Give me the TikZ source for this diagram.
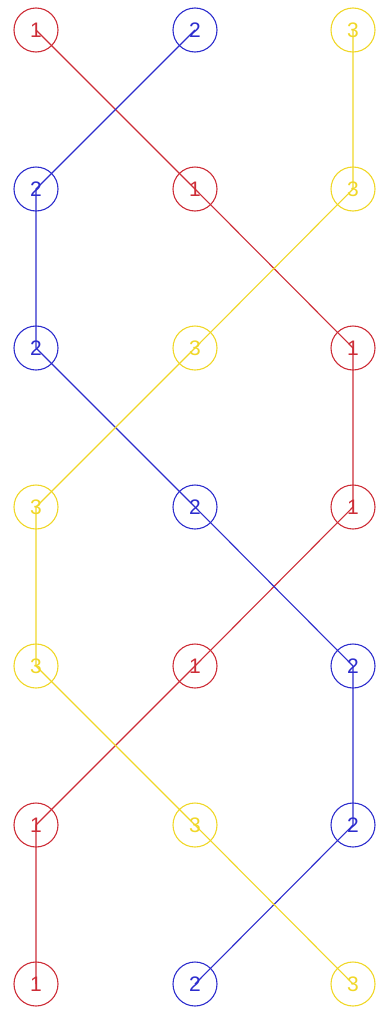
\documentclass[tikz,border=0pt]{standalone}
\usepackage{fontspec}
\setmainfont{Liberation Sans}
\definecolor{cred}{RGB}{205,45,55}
\definecolor{cblue}{RGB}{45,45,205}
\definecolor{cyel}{RGB}{240,215,40}
\begin{document}
\begin{tikzpicture}[x=1pt,y=-1pt,
  ball/.style={circle,draw,line width=1.1pt,minimum size=44pt,inner sep=0pt,font=\fontsize{21}{21}\selectfont},
  rb/.style={ball,draw=cred,text=cred},
  bb/.style={ball,draw=cblue,text=cblue},
  yb/.style={ball,draw=cyel,text=cyel},
  link/.style={line width=1.1pt}]
\useasboundingbox (0,0) rectangle (378,1012);
% rows y: 30,189,348,507,666,825,984 ; cols x: 36,195,353
\node[rb] (r0) at (36,30) {1};
\node[bb] (b0) at (195,30) {2};
\node[yb] (y0) at (353,30) {3};
\node[bb] (b1) at (36,189) {2};
\node[rb] (r1) at (195,189) {1};
\node[yb] (y1) at (353,189) {3};
\node[bb] (b2) at (36,348) {2};
\node[yb] (y2) at (195,348) {3};
\node[rb] (r2) at (353,348) {1};
\node[yb] (y3) at (36,507) {3};
\node[bb] (b3) at (195,507) {2};
\node[rb] (r3) at (353,507) {1};
\node[yb] (y4) at (36,666) {3};
\node[rb] (r4) at (195,666) {1};
\node[bb] (b4) at (353,666) {2};
\node[rb] (r5) at (36,825) {1};
\node[yb] (y5) at (195,825) {3};
\node[bb] (b5) at (353,825) {2};
\node[rb] (r6) at (36,984) {1};
\node[bb] (b6) at (195,984) {2};
\node[yb] (y6) at (353,984) {3};
\draw[link,cred] (r0.center) -- (r1.center) -- (r2.center) -- (r3.center) -- (r4.center) -- (r5.center) -- (r6.center);
\draw[link,cblue] (b0.center) -- (b1.center) -- (b2.center) -- (b3.center) -- (b4.center) -- (b5.center) -- (b6.center);
\draw[link,cyel] (y0.center) -- (y1.center) -- (y2.center) -- (y3.center) -- (y4.center) -- (y5.center) -- (y6.center);
\end{tikzpicture}
\end{document}
